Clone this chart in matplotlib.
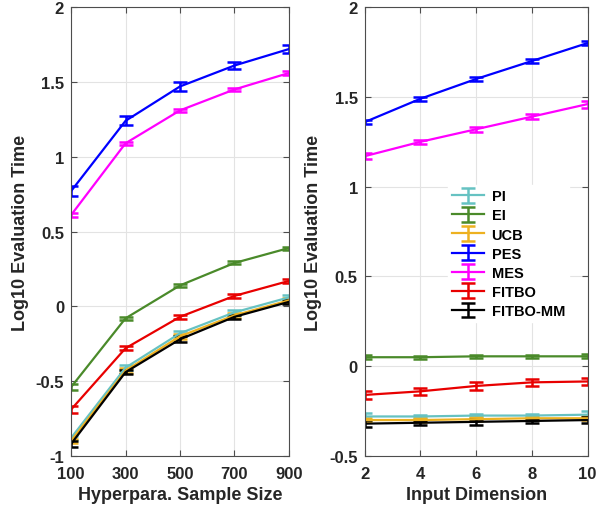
import matplotlib
matplotlib.use("Agg")
import matplotlib.pyplot as plt
import numpy as np

plt.rcParams['font.family'] = ['Liberation Sans', 'DejaVu Sans']
plt.rcParams['font.weight'] = 'bold'

methods = ['PI', 'EI', 'UCB', 'PES', 'MES', 'FITBO', 'FITBO-MM']
colors = ['#66C2C2', '#4A8A2A', '#EDB120', '#0000FF', '#FF00FF', '#E80000', '#000000']

sample_sizes = [100, 300, 500, 700, 900]
left_vals = {
    'PI':       [-0.88, -0.41, -0.18, -0.04, 0.06],
    'EI':       [-0.54, -0.08, 0.14, 0.29, 0.39],
    'UCB':      [-0.90, -0.43, -0.20, -0.06, 0.04],
    'PES':      [0.77, 1.24, 1.47, 1.61, 1.72],
    'MES':      [0.61, 1.09, 1.31, 1.45, 1.56],
    'FITBO':    [-0.69, -0.28, -0.07, 0.07, 0.17],
    'FITBO-MM': [-0.92, -0.44, -0.22, -0.07, 0.03],
}
left_err = {
    'PI':       [0.015, 0.015, 0.015, 0.015, 0.015],
    'EI':       [0.02, 0.01, 0.01, 0.01, 0.01],
    'UCB':      [0.015, 0.015, 0.015, 0.015, 0.015],
    'PES':      [0.035, 0.03, 0.03, 0.025, 0.025],
    'MES':      [0.012, 0.012, 0.012, 0.01, 0.012],
    'FITBO':    [0.025, 0.015, 0.012, 0.015, 0.015],
    'FITBO-MM': [0.02, 0.015, 0.02, 0.015, 0.015],
}

dims = [2, 4, 6, 8, 10]
right_vals = {
    'PI':       [-0.28, -0.28, -0.275, -0.275, -0.27],
    'EI':       [0.05, 0.05, 0.055, 0.055, 0.055],
    'UCB':      [-0.30, -0.30, -0.295, -0.29, -0.29],
    'PES':      [1.36, 1.49, 1.60, 1.70, 1.80],
    'MES':      [1.17, 1.25, 1.32, 1.39, 1.46],
    'FITBO':    [-0.16, -0.14, -0.11, -0.09, -0.085],
    'FITBO-MM': [-0.32, -0.315, -0.31, -0.305, -0.30],
}
right_err = {
    'PI':       [0.02, 0.01, 0.01, 0.01, 0.02],
    'EI':       [0.012, 0.008, 0.01, 0.008, 0.012],
    'UCB':      [0.01, 0.01, 0.01, 0.01, 0.01],
    'PES':      [0.012, 0.01, 0.01, 0.01, 0.01],
    'MES':      [0.015, 0.012, 0.015, 0.015, 0.02],
    'FITBO':    [0.02, 0.018, 0.02, 0.018, 0.022],
    'FITBO-MM': [0.018, 0.012, 0.015, 0.012, 0.015],
}

fig = plt.figure(figsize=(6.02, 5.10), dpi=100)
ax1 = fig.add_axes([0.118, 0.104, 0.362, 0.880])
ax2 = fig.add_axes([0.606, 0.104, 0.370, 0.880])

def draw(ax, xs, vals, errs):
    for m, c in zip(methods, colors):
        ax.errorbar(xs, vals[m], yerr=errs[m], color=c, lw=1.6,
                    capsize=5, capthick=1.8, elinewidth=1.8, label=m)

draw(ax1, sample_sizes, left_vals, left_err)
draw(ax2, dims, right_vals, right_err)

for ax in (ax1, ax2):
    ax.grid(True, color='#E3E3E3', lw=0.8)
    ax.set_axisbelow(True)
    for s in ax.spines.values():
        s.set_color('#4D4D4D')
        s.set_linewidth(0.8)
    ax.tick_params(direction='in', top=True, right=True, length=4,
                   color='#4D4D4D', labelsize=12, labelcolor='#262626')
    ax.tick_params(axis='x', pad=7)
    ax.tick_params(axis='y', pad=5)
    ax.set_ylabel('Log10 Evaluation Time', fontsize=13, fontweight='bold',
                  color='#262626', labelpad=5)

ax1.set_xlim(100, 900)
ax1.set_ylim(-1, 2)
ax1.set_xticks(sample_sizes)
ax1.set_yticks([-1, -0.5, 0, 0.5, 1, 1.5, 2])
ax1.set_yticklabels(['-1', '-0.5', '0', '0.5', '1', '1.5', '2'])
ax1.set_xlabel('Hyperpara. Sample Size', fontsize=13, fontweight='bold',
               color='#262626', labelpad=4)

ax2.set_xlim(2, 10)
ax2.set_ylim(-0.5, 2)
ax2.set_xticks(dims)
ax2.set_yticks([-0.5, 0, 0.5, 1, 1.5, 2])
ax2.set_yticklabels(['-0.5', '0', '0.5', '1', '1.5', '2'])
ax2.set_xlabel('Input Dimension', fontsize=13, fontweight='bold',
               color='#262626', labelpad=4)

leg = ax2.legend(loc='upper left', bbox_to_anchor=(0.34, 0.62), frameon=True,
                 fontsize=10.5, handlelength=2.2, labelspacing=0.35,
                 borderpad=0.3, handletextpad=0.5, fancybox=False)
leg.get_frame().set_edgecolor('white')
leg.get_frame().set_facecolor('white')
leg.get_frame().set_alpha(1)

fig.savefig('out.png', dpi=100)
